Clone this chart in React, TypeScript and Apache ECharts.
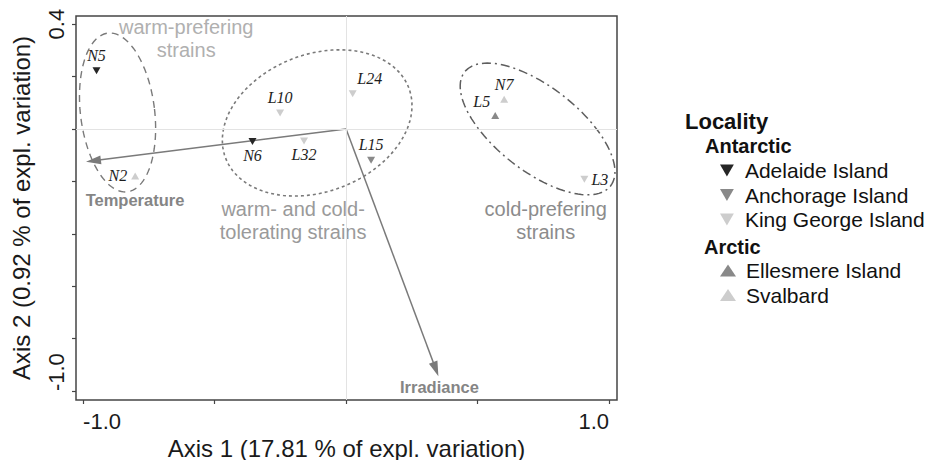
import React, { useEffect, useRef } from "react";
import * as echarts from "echarts";

const SANS = '"Liberation Sans", Arial, sans-serif';
const SERIF = '"Liberation Serif", "Times New Roman", serif';

// Strain scores on the first two RDA axes, grouped by sampling locality
const adelaideIsland = [
  { name: "N5", value: [-0.949, 0.222] },
  { name: "N6", value: [-0.356, -0.048] },
];
const anchorageIsland = [{ name: "L15", value: [0.095, -0.119] }];
const kingGeorgeIsland = [
  { name: "L10", value: [-0.251, 0.061] },
  { name: "L32", value: [-0.16, -0.046] },
  { name: "L24", value: [0.025, 0.134] },
  { name: "L3", value: [0.906, -0.192] },
];
const ellesmereIsland = [{ name: "L5", value: [0.567, 0.051] }];
const svalbard = [
  { name: "N2", value: [-0.802, -0.179] },
  { name: "N7", value: [0.601, 0.113] },
];

// Explanatory variables (biplot arrows)
const loadings = [
  { name: "Temperature", value: [-0.989, -0.125] },
  { name: "Irradiance", value: [0.351, -0.943] },
];

// Strain groups: centre x, centre y, semi-axis x, semi-axis y, rotation (deg)
const groupEllipses = [
  [-0.869, 0.063, 0.141, 0.305, 7],
  [-0.11, 0.023, 0.373, 0.262, 21],
  [0.728, 0.0, 0.352, 0.16, -38],
];
const groupNotes = [
  { text: "warm-prefering\nstrains", value: [-0.608, 0.346] },
  { text: "warm- and cold-\ntolerating strains", value: [-0.2015, -0.35] },
  { text: "cold-prefering\nstrains", value: [0.759, -0.35] },
];

const xTicks = [-1, -0.5, 0, 0.5, 1];
const yTicks = [0.4, 0.2, 0, -0.2, -0.4, -0.6, -0.8, -1.0];
const xRange = [-1.027, 1.03];
const yRange = [-1.034, 0.431];

// ---- styling ----
const DOWN = "path://M0,0L10,0L5,8.66Z";
const UP = "triangle";
const ellipseStyles = [
  { stroke: "#7a7a7a", lineWidth: 1.4, lineDash: [7, 5] },
  { stroke: "#7a7a7a", lineWidth: 1.6, lineDash: [3, 3] },
  { stroke: "#5e5e5e", lineWidth: 1.5, lineDash: [9, 4, 2, 4] },
];
const noteColors = ["#b0b0b0", "#9a9a9a", "#8c8c8c"];
const arrowLabelOffset: Record<string, number[]> = {
  Temperature: [49, 38],
  Irradiance: [1, 11],
};
const pointLabel: Record<string, any> = {
  N5: { position: "top", distance: 4 },
  N6: { position: "bottom", distance: 2 },
  L10: { position: "top", distance: 4 },
  L32: { position: "bottom", distance: 2 },
  L24: { position: "top", distance: 4, offset: [17, 0] },
  L15: { position: "top", distance: 4 },
  L5: { position: "left", distance: 4, offset: [3, -14] },
  N7: { position: "top", distance: 3 },
  L3: { position: "right", distance: 3 },
  N2: { position: "left", distance: 4 },
};

const withLabels = (pts: { name: string; value: number[] }[]) =>
  pts.map((p) => ({ ...p, label: pointLabel[p.name] }));

const scatter = (name: string, data: any[], color: string, symbol: string) => ({
  name,
  type: "scatter",
  data: withLabels(data),
  symbol,
  symbolSize: [8, 7],
  itemStyle: { color, opacity: 1 },
  z: 5,
  label: {
    show: true,
    formatter: "{b}",
    fontFamily: SERIF,
    fontStyle: "italic",
    fontSize: 16,
    color: "#1e1e1e",
  },
  emphasis: { disabled: true },
});

const tickLabel = {
  formatter: (v: number) => v.toFixed(1),
  fontSize: 22,
  color: "#1a1a1a",
  fontFamily: SANS,
};

export default function App() {
  const ref = useRef<HTMLDivElement>(null);

  useEffect(() => {
    if (!ref.current) return;
    const chart = echarts.init(ref.current, undefined, { renderer: "svg" });

    const legendBase = {
      orient: "vertical",
      left: 715,
      itemWidth: 16,
      itemHeight: 12,
      itemGap: 3.5,
      selectedMode: false,
      textStyle: {
        fontFamily: SANS,
        fontSize: 21,
        lineHeight: 21,
        color: "#111",
        padding: [0, 0, 0, 5],
      },
    };

    const headers = [
      { text: "Locality", x: 685, y: 121, size: 22 },
      { text: "Antarctic", x: 705, y: 146, size: 20 },
      { text: "Arctic", x: 704, y: 247, size: 20 },
    ];

    chart.setOption({
      animation: false,
      backgroundColor: "#fff",
      textStyle: { fontFamily: SANS },
      grid: {
        left: 76,
        right: 311,
        top: 16,
        bottom: 60,
        show: true,
        borderColor: "#454545",
        borderWidth: 1.5,
        backgroundColor: "transparent",
        containLabel: false,
        outerBoundsMode: "none",
      },
      xAxis: [
        {
          type: "value",
          min: xRange[0],
          max: xRange[1],
          position: "bottom",
          axisLine: { show: false, onZero: false },
          splitLine: { show: false },
          axisTick: {
            show: true,
            customValues: xTicks,
            length: 4,
            lineStyle: { color: "#454545", width: 1.2 },
          },
          axisLabel: { ...tickLabel, customValues: [-1], align: "left", margin: 10 },
          name: "Axis 1 (17.81 % of expl. variation)",
          nameLocation: "middle",
          nameGap: 32,
          nameTextStyle: { fontSize: 24, color: "#1a1a1a", fontFamily: SANS },
        },
        {
          type: "value",
          gridIndex: 0,
          min: xRange[0],
          max: xRange[1],
          position: "bottom",
          axisLine: { show: false, onZero: false },
          splitLine: { show: false },
          axisTick: { show: false },
          axisLabel: { ...tickLabel, customValues: [1], align: "right", margin: 10 },
        },
      ],
      yAxis: [
        {
          type: "value",
          min: yRange[0],
          max: yRange[1],
          position: "left",
          axisLine: { show: false, onZero: false },
          splitLine: { show: false },
          axisTick: {
            show: true,
            customValues: yTicks,
            length: 4,
            lineStyle: { color: "#454545", width: 1.2 },
          },
          axisLabel: { show: false },
          name: "Axis 2 (0.92 % of expl. variation)",
          nameLocation: "middle",
          nameGap: 43,
          nameTextStyle: { fontSize: 24, color: "#1a1a1a", fontFamily: SANS },
        },
        {
          type: "value",
          gridIndex: 0,
          min: yRange[0],
          max: yRange[1],
          position: "left",
          axisLine: { show: false, onZero: false },
          splitLine: { show: false },
          axisTick: { show: false },
          axisLabel: { ...tickLabel, customValues: [0.4], rotate: 90, margin: 9 },
        },
        {
          type: "value",
          gridIndex: 0,
          min: yRange[0],
          max: yRange[1],
          position: "left",
          axisLine: { show: false, onZero: false },
          splitLine: { show: false },
          axisTick: { show: false },
          axisLabel: {
            ...tickLabel,
            customValues: [-1],
            rotate: 90,
            align: "left",
            margin: 9,
          },
        },
      ],
      legend: [
        {
          ...legendBase,
          top: 155,
          icon: DOWN,
          data: ["Adelaide Island", "Anchorage Island", "King George Island"],
        },
        {
          ...legendBase,
          top: 255,
          icon: UP,
          data: ["Ellesmere Island", "Svalbard"],
        },
      ],
      graphic: headers.map((h) => ({
        type: "text",
        x: h.x,
        y: h.y,
        style: {
          text: h.text,
          fontFamily: SANS,
          fontWeight: "bold",
          fontSize: h.size,
          fill: "#111",
          align: "left",
          verticalAlign: "middle",
        },
      })),
      series: [
        {
          name: "groups",
          type: "custom",
          z: 2,
          silent: true,
          data: groupEllipses,
          encode: { x: 0, y: 1 },
          renderItem: (params: any, api: any) => {
            const c = api.coord([api.value(0), api.value(1)]);
            const s = api.size([api.value(2), api.value(3)]);
            const th = (api.value(4) * Math.PI) / 180;
            const pts: number[][] = [];
            for (let i = 0; i < 120; i++) {
              const t = (i / 120) * Math.PI * 2;
              const ex = s[0] * Math.cos(t);
              const ey = s[1] * Math.sin(t);
              pts.push([
                c[0] + ex * Math.cos(th) - ey * Math.sin(th),
                c[1] - (ex * Math.sin(th) + ey * Math.cos(th)),
              ]);
            }
            const st = ellipseStyles[params.dataIndex];
            return {
              type: "polygon",
              shape: { points: pts },
              style: { fill: "none", ...st },
            };
          },
          markLine: {
            silent: true,
            symbol: "none",
            label: { show: false },
            lineStyle: { color: "#e3e3e3", type: "solid", width: 1 },
            data: [{ xAxis: 0 }, { yAxis: 0 }],
          },
        },
        {
          name: "notes",
          type: "custom",
          z: 2,
          silent: true,
          data: groupNotes.map((n) => n.value),
          encode: { x: 0, y: 1 },
          renderItem: (params: any, api: any) => {
            const c = api.coord([api.value(0), api.value(1)]);
            return {
              type: "text",
              x: c[0],
              y: c[1],
              style: {
                text: groupNotes[params.dataIndex].text,
                fill: noteColors[params.dataIndex],
                fontFamily: SANS,
                fontSize: 20,
                lineHeight: 23,
                align: "center",
                verticalAlign: "middle",
              },
            };
          },
        },
        {
          name: "variables",
          type: "custom",
          z: 3,
          silent: true,
          data: loadings.map((l) => l.value),
          encode: { x: 0, y: 1 },
          renderItem: (params: any, api: any) => {
            const o = api.coord([0, 0]);
            const t = api.coord([api.value(0), api.value(1)]);
            const dx = t[0] - o[0];
            const dy = t[1] - o[1];
            const len = Math.hypot(dx, dy);
            const ux = dx / len;
            const uy = dy / len;
            const headLen = 15;
            const half = 4.5;
            const bx = t[0] - ux * headLen;
            const by = t[1] - uy * headLen;
            const name = loadings[params.dataIndex].name;
            const off = arrowLabelOffset[name];
            return {
              type: "group",
              children: [
                {
                  type: "line",
                  shape: { x1: o[0], y1: o[1], x2: bx + ux * 2, y2: by + uy * 2 },
                  style: { stroke: "#7a7a7a", lineWidth: 1.5 },
                },
                {
                  type: "polygon",
                  shape: {
                    points: [
                      [t[0], t[1]],
                      [bx - uy * half, by + ux * half],
                      [bx + uy * half, by - ux * half],
                    ],
                  },
                  style: { fill: "#7a7a7a" },
                },
                {
                  type: "text",
                  x: t[0] + off[0],
                  y: t[1] + off[1],
                  style: {
                    text: name,
                    fill: "#858585",
                    fontFamily: SANS,
                    fontWeight: "bold",
                    fontSize: 16.5,
                    align: "center",
                    verticalAlign: "middle",
                  },
                },
              ],
            };
          },
        },
        scatter("Adelaide Island", adelaideIsland, "#262626", DOWN),
        scatter("Anchorage Island", anchorageIsland, "#898989", DOWN),
        scatter("King George Island", kingGeorgeIsland, "#cdcdcd", DOWN),
        scatter("Ellesmere Island", ellesmereIsland, "#898989", UP),
        scatter("Svalbard", svalbard, "#cdcdcd", UP),
      ],
    });

    return () => chart.dispose();
  }, []);

  return (
    <div
      ref={ref}
      style={{ position: "absolute", left: 0, top: 0, width: 928, height: 460 }}
    />
  );
}
